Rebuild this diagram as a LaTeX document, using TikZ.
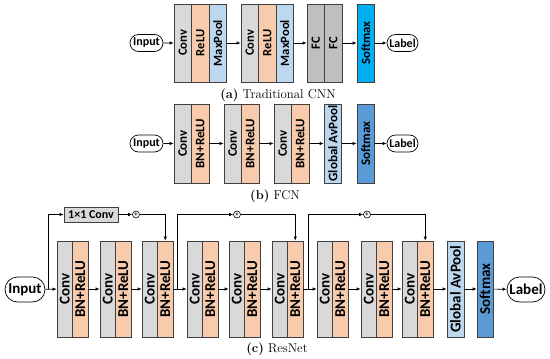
\documentclass[tikz,border=0pt]{standalone}
\usepackage{fontspec}
\setsansfont{Carlito}
\usepackage{xcolor}
\usepackage{tikz}
\usetikzlibrary{positioning,calc,arrows.meta,shapes.misc}
\definecolor{convgray}{RGB}{217,217,217}
\definecolor{relupeach}{RGB}{248,203,173}
\definecolor{poolblue}{RGB}{189,215,238}
\definecolor{fcgray}{RGB}{191,191,191}
\definecolor{softcyan}{RGB}{0,176,240}
\definecolor{softblue}{RGB}{91,155,213}
\newcommand{\vtxt}[1]{\rotatebox{90}{#1}}
\tikzset{
  layer/.style={draw=black!75,line width=0.7pt,inner sep=0pt},
  convcell/.style={layer,fill=convgray},
  relucell/.style={layer,fill=relupeach},
  poolcell/.style={layer,fill=poolblue},
  fccell/.style={layer,fill=fcgray},
  smcell/.style={layer,fill=softcyan},
  smbcell/.style={layer,fill=softblue},
  endcap/.style={rounded rectangle,draw=black,line width=0.7pt,inner sep=0pt},
  plusnode/.style={circle,draw=black,line width=0.6pt,fill=white,minimum size=7pt,inner sep=0pt,font=\sffamily\bfseries\fontsize{6.5}{6.5}\selectfont},
  flow/.style={-{Latex[length=4pt,width=3.5pt]},line width=0.7pt},
  capt/.style={font=\fontsize{12.8}{14}\selectfont},
}

\begin{document}
\begin{tikzpicture}[x=1pt,y=-1pt]
  \useasboundingbox (0,0) rectangle (550,359);
  % (a) traditional CNN
  \begin{scope}[font=\sffamily\bfseries\fontsize{12.6}{14}\selectfont]
  \begin{scope}[every node/.append style={minimum width=17.5pt,minimum height=78pt}]
  \node[convcell] (ac1) at (182.75,43) {\vtxt{Conv}};
  \node[relucell] (ar1) at (200.25,43) {\vtxt{ReLU}};
  \node[poolcell] (ap1) at (217.75,43) {\vtxt{MaxPool}};
  \node[convcell] (ac2) at (249.75,43) {\vtxt{Conv}};
  \node[relucell] (ar2) at (267.25,43) {\vtxt{ReLU}};
  \node[poolcell] (ap2) at (284.75,43) {\vtxt{MaxPool}};
  \node[fccell] (af1) at (315.75,43) {\vtxt{FC}};
  \node[fccell] (af2) at (333.25,43) {\vtxt{FC}};
  \node[smcell] (asm) at (365.75,43) {\vtxt{Softmax}};
  \end{scope}
  \node[endcap,minimum width=33pt,minimum height=17pt,font=\sffamily\bfseries\fontsize{12}{14}\selectfont] (ain) at (146.5,43) {Input};
  \node[endcap,minimum width=31pt,minimum height=17pt,font=\sffamily\bfseries\fontsize{12}{14}\selectfont] (alb) at (402.5,43) {Label};
  \end{scope}
  \draw[flow] (ain) -- (ac1);
  \draw[flow] (ap1) -- (ac2);
  \draw[flow] (ap2) -- (af1);
  \draw[flow] (af2) -- (asm);
  \draw[flow] (asm) -- (alb);
  \node[capt] (capa) at (278,95) {\textbf{(a)} Traditional CNN};

  % (b) FCN
  \begin{scope}[font=\sffamily\bfseries\fontsize{13}{14}\selectfont]
  \begin{scope}[every node/.append style={minimum width=17.5pt,minimum height=79pt}]
  \foreach \x [count=\i] in {174,224,274}{
    \node[convcell] (bc\i) at (\x+8.75,143.5) {\vtxt{Conv}};
    \node[relucell] (bb\i) at (\x+26.25,143.5) {\vtxt{BN+ReLU}};
  }
  \node[poolcell] (bgp) at (332.75,143.5) {\vtxt{Global AvPool}};
  \node[smbcell] (bsm) at (365.75,143.5) {\vtxt{Softmax}};
  \end{scope}
  \node[endcap,minimum width=33pt,minimum height=17pt,font=\sffamily\bfseries\fontsize{12}{14}\selectfont] (bin) at (146.5,143.5) {Input};
  \node[endcap,minimum width=31pt,minimum height=17pt,font=\sffamily\bfseries\fontsize{12}{14}\selectfont] (blb) at (402.5,143.5) {Label};
  \end{scope}
  \draw[flow] (bin) -- (bc1);
  \draw[flow] (bb1) -- (bc2);
  \draw[flow] (bb2) -- (bc3);
  \draw[flow] (bb3) -- (bgp);
  \draw[flow] (bgp) -- (bsm);
  \draw[flow] (bsm) -- (blb);
  \node[capt] (capb) at (275,196) {\textbf{(b)} FCN};

  % (c) ResNet
  \begin{scope}[font=\sffamily\bfseries\fontsize{15}{17}\selectfont]
  \begin{scope}[every node/.append style={minimum width=15.5pt,minimum height=96pt}]
  \foreach \x [count=\i] in {57,100,142,187,229,272,317,361,402}{
    \node[convcell] (cc\i) at (\x+7.75,289) {\vtxt{Conv}};
    \node[relucell] (cb\i) at (\x+23.25,289) {\vtxt{BN+ReLU}};
  }
  \node[poolcell,minimum width=17pt] (cgp) at (455.5,289) {\vtxt{Global AvPool}};
  \node[smbcell,minimum width=16pt] (csm) at (485,289) {\vtxt{Softmax}};
  \end{scope}
  \node[endcap,minimum width=40pt,minimum height=25pt] (cin) at (25,289.5) {Input};
  \node[endcap,minimum width=38pt,minimum height=25pt] (clb) at (526,289.5) {Label};
  \end{scope}
  \draw[flow] (cin) -- (cc1);
  \foreach \i/\j in {1/2,2/3,3/4,4/5,5/6,6/7,7/8,8/9}{ \draw[flow] (cb\i) -- (cc\j); }
  \draw[flow] (cb9) -- (cgp);
  \draw[flow] (cgp) -- (csm);
  \draw[flow] (csm) -- (clb);
  % shortcuts
  \node[convcell,minimum width=54pt,minimum height=15pt,font=\sffamily\bfseries\fontsize{12}{14}\selectfont] (proj) at (91,214.5) {1×1 Conv};
  \node[plusnode] (p1) at (136,214.5) {+};
  \node[plusnode] (p2) at (237,214.5) {+};
  \node[plusnode] (p3) at (367,214.5) {+};
  \coordinate (s1) at ($(cin.east)!0.25!(cc1.west)$);
  \coordinate (s2) at ($(cb3.east)!0.28!(cc4.west)$);
  \coordinate (s3) at ($(cb6.east)!0.36!(cc7.west)$);
  \draw[flow] (s1) |- (proj);
  \draw[flow] (proj) -- (p1);
  \draw[flow] (p1) -| (cb3.north);
  \draw[flow] (s2) |- (p2);
  \draw[flow] (p2) -| (cb6.north);
  \draw[flow] (s3) |- (p3);
  \draw[flow] (p3) -| (cb9.north);
  \node[capt] (capc) at (277,349) {\textbf{(c)} ResNet};
\end{tikzpicture}
\end{document}
